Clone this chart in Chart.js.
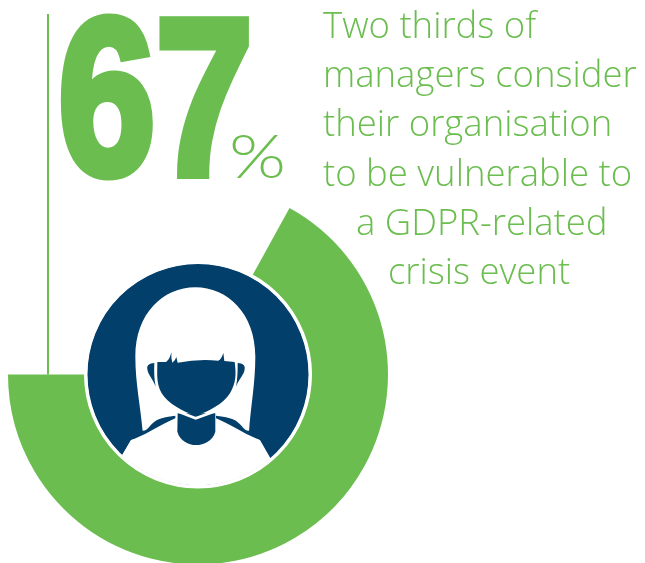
<!DOCTYPE html>
<html>
<head>
<meta charset="utf-8">
<title>Two thirds of managers</title>
<script src="https://cdn.jsdelivr.net/npm/chart.js@4/dist/chart.umd.min.js"></script>
<style>
    html, body { margin: 0; padding: 0; background: #fff; overflow: hidden; }
    canvas { display: block; }
</style>
</head>
<body>
<canvas id="chart" width="645" height="563"></canvas>
<script>
// Survey result
const categories = ['Vulnerable', 'Not vulnerable'];
const shares = [67, 33];
const statLabel = '67';
const statUnit = '%';
const captionLines = [
    'Two thirds of',
    'managers consider',
    'their organisation',
    'to be vulnerable to',
    'a GDPR-related',
    'crisis event'
];

const GREEN = '#6abd4e';
const NAVY = '#023f6b';

// x offset and baseline of each caption line
const captionPos = [[323, 38], [323, 87], [323, 136], [323, 186], [356, 235], [388, 284]];

function shape(ctx, color, build) {
    ctx.beginPath();
    build(ctx);
    ctx.closePath();
    ctx.fillStyle = color;
    ctx.fill();
}

// Person icon, drawn on a 3x grid around the hole of the doughnut
function drawPerson(ctx, cx, cy) {
    ctx.save();
    ctx.beginPath();
    ctx.arc(cx, cy, 111, 0, Math.PI * 2);
    ctx.fillStyle = NAVY;
    ctx.fill();
    ctx.clip();
    ctx.translate(cx - 128, cy - 124.5);
    ctx.scale(1 / 3, 1 / 3);

    // hair and shoulders
    shape(ctx, '#fff', c => {
        c.moveTo(218, 545);
        c.bezierCurveTo(212, 470, 196, 400, 196, 320);
        c.bezierCurveTo(196, 190, 280, 112, 376, 112);
        c.bezierCurveTo(472, 112, 556, 190, 556, 320);
        c.bezierCurveTo(556, 400, 542, 470, 537, 545);
        c.lineTo(570, 570);
        c.lineTo(610, 640);
        c.lineTo(610, 760);
        c.lineTo(150, 760);
        c.lineTo(150, 625);
        c.lineTo(182, 570);
    });

    // left shoulder sliver
    shape(ctx, NAVY, c => {
        c.moveTo(150, 625);
        c.lineTo(182, 570);
        c.bezierCurveTo(215, 562, 270, 525, 316, 505);
        c.lineTo(316, 497);
        c.bezierCurveTo(270, 502, 255, 510, 240, 528);
        c.bezierCurveTo(232, 538, 225, 544, 215, 542);
        c.lineTo(120, 540);
    });
    // right shoulder sliver
    shape(ctx, NAVY, c => {
        c.moveTo(606, 630);
        c.lineTo(572, 570);
        c.bezierCurveTo(540, 562, 485, 525, 438, 505);
        c.lineTo(438, 497);
        c.bezierCurveTo(485, 502, 500, 510, 515, 528);
        c.bezierCurveTo(523, 538, 530, 544, 538, 542);
        c.lineTo(640, 540);
    });

    // neck
    shape(ctx, NAVY, c => {
        c.moveTo(323, 490);
        c.lineTo(322, 545);
        c.bezierCurveTo(330, 572, 355, 585, 378, 585);
        c.bezierCurveTo(402, 585, 428, 572, 436, 545);
        c.lineTo(436, 490);
    });
    // chin outline between neck and face
    ctx.beginPath();
    ctx.moveTo(318, 482);
    ctx.lineTo(377, 505);
    ctx.lineTo(440, 482);
    ctx.strokeStyle = '#fff';
    ctx.lineWidth = 8;
    ctx.stroke();

    // face with fringe
    shape(ctx, NAVY, c => {
        c.moveTo(262, 336);
        c.lineTo(288, 336);
        c.quadraticCurveTo(300, 328, 304, 306);
        c.quadraticCurveTo(303, 325, 307, 338);
        c.quadraticCurveTo(316, 332, 319, 321);
        c.lineTo(323, 338);
        c.quadraticCurveTo(385, 326, 445, 332);
        c.quadraticCurveTo(456, 325, 460, 308);
        c.lineTo(463, 333);
        c.lineTo(494, 336);
        c.bezierCurveTo(498, 370, 500, 395, 480, 430);
        c.bezierCurveTo(460, 462, 420, 482, 377, 498);
        c.bezierCurveTo(335, 482, 295, 462, 275, 430);
        c.bezierCurveTo(258, 400, 262, 370, 262, 336);
    });

    // ears
    shape(ctx, NAVY, c => {
        c.moveTo(253, 339);
        c.bezierCurveTo(238, 340, 230, 345, 232, 358);
        c.bezierCurveTo(234, 375, 248, 385, 257, 410);
        c.bezierCurveTo(252, 385, 252, 360, 253, 339);
    });
    shape(ctx, NAVY, c => {
        c.moveTo(503, 339);
        c.bezierCurveTo(518, 340, 526, 345, 524, 358);
        c.bezierCurveTo(522, 375, 508, 385, 498, 410);
        c.bezierCurveTo(503, 385, 503, 360, 503, 339);
    });
    ctx.restore();

    // trims the disc edge so no navy fringe shows under the white shoulders
    ctx.beginPath();
    ctx.arc(cx, cy, 112.25, 0, Math.PI * 2);
    ctx.strokeStyle = '#fff';
    ctx.lineWidth = 3.5;
    ctx.stroke();
}

const infographic = {
    id: 'infographic',
    afterDatasetsDraw(chart) {
        const ctx = chart.ctx;
        const arc = chart.getDatasetMeta(0).data[0];
        const cx = arc.x, cy = arc.y;

        // rule running up from the end of the ring
        ctx.save();
        ctx.strokeStyle = GREEN;
        ctx.lineWidth = 2;
        ctx.beginPath();
        ctx.moveTo(48, 14);
        ctx.lineTo(48, cy);
        ctx.stroke();
        ctx.restore();

        drawPerson(ctx, cx, cy);

        ctx.save();
        ctx.fillStyle = GREEN;
        ctx.strokeStyle = GREEN;
        ctx.textBaseline = 'alphabetic';

        // big figure, squeezed and thickened
        ctx.save();
        ctx.translate(58, 174);
        ctx.scale(0.79, 1);
        ctx.font = 'bold 222px "Liberation Sans"';
        ctx.lineWidth = 9;
        ctx.lineJoin = 'miter';
        ctx.fillText(statLabel, 0, 0);
        ctx.strokeText(statLabel, 0, 0);
        ctx.restore();

        // percent sign, stretched a little wider than the font draws it
        ctx.save();
        ctx.translate(229, 178);
        ctx.scale(1.18, 1);
        ctx.font = '300 62px Lato';
        ctx.fillText(statUnit, 0, 0);
        ctx.restore();

        ctx.font = '300 36.5px "Open Sans"';
        captionLines.forEach((line, i) => {
            ctx.fillText(line, captionPos[i][0], captionPos[i][1]);
        });
        ctx.restore();
    }
};

new Chart(document.getElementById('chart'), {
    type: 'doughnut',
    data: {
        labels: categories,
        datasets: [{
            data: shares,
            backgroundColor: [GREEN, 'rgba(0,0,0,0)'],
            borderWidth: 0,
            clip: false
        }]
    },
    options: {
        responsive: false,
        animation: false,
        rotation: 28.8,
        radius: 190,
        cutout: '59.7%',
        layout: { padding: { left: 8, right: 257, top: 186, bottom: 0 } },
        events: [],
        plugins: { legend: { display: false }, tooltip: { enabled: false } }
    },
    plugins: [infographic]
});
</script>
</body>
</html>
